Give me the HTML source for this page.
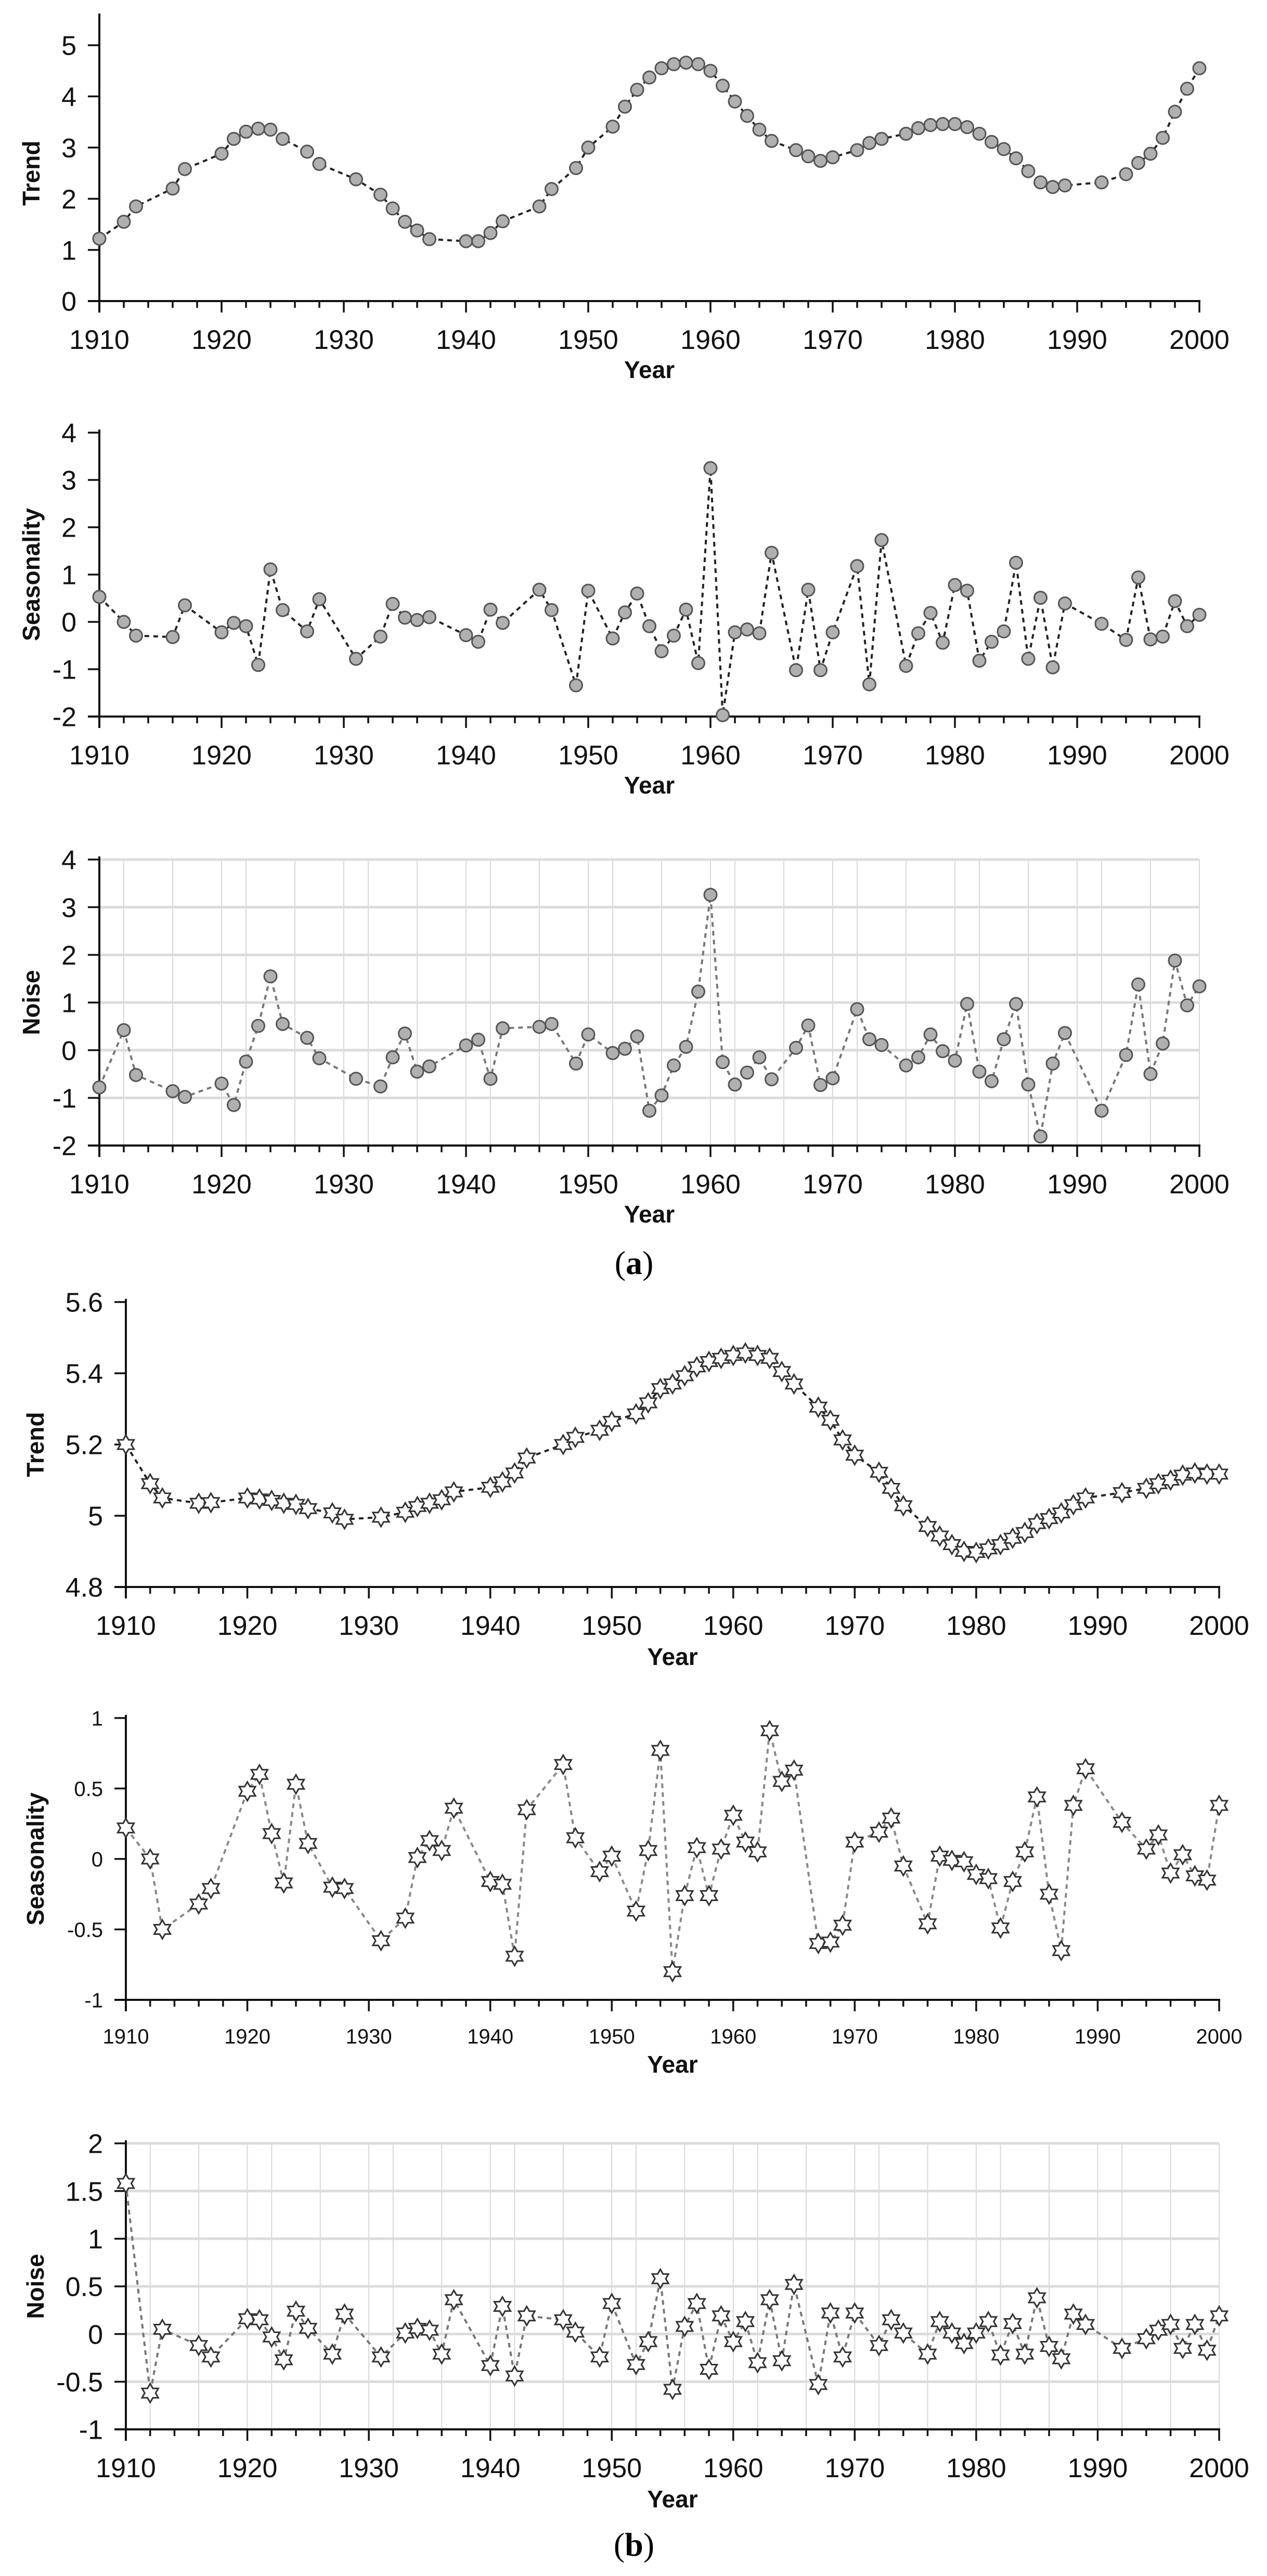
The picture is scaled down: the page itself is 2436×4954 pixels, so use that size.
<!DOCTYPE html>
<html><head><meta charset="utf-8"><style>
html,body{margin:0;padding:0;background:#fff;}
svg{display:block;font-family:"Liberation Sans",Arial,sans-serif;}
</style></head><body>
<svg id="fig" width="2436" height="4954" viewBox="0 0 2436 4954" xmlns="http://www.w3.org/2000/svg">
<text x="1219" y="2450" text-anchor="middle" font-family="Liberation Serif, serif" font-size="64">(<tspan font-weight="bold">a</tspan>)</text>
<text x="1219" y="4915" text-anchor="middle" font-family="Liberation Serif, serif" font-size="64">(<tspan font-weight="bold">b</tspan>)</text>
</svg>
<script>
const years = [1910,1912,1913,1916,1917,1920,1921,1922,1923,1924,1925,1927,1928,1931,1933,1934,1935,1936,1937,1940,1941,1942,1943,1946,1947,1949,1950,1952,1953,1954,1955,1956,1957,1958,1959,1960,1961,1962,1963,1964,1965,1967,1968,1969,1970,1972,1973,1974,1976,1977,1978,1979,1980,1981,1982,1983,1984,1985,1986,1987,1988,1989,1992,1994,1995,1996,1997,1998,1999,2000];
const xTickLabels = ["1910","1920","1930","1940","1950","1960","1970","1980","1990","2000"];
const aTrend = [1.22,1.55,1.85,2.2,2.58,2.88,3.17,3.31,3.37,3.35,3.17,2.92,2.68,2.38,2.08,1.81,1.55,1.38,1.21,1.17,1.17,1.33,1.56,1.85,2.19,2.6,3.0,3.41,3.8,4.13,4.37,4.55,4.63,4.66,4.63,4.5,4.21,3.9,3.62,3.35,3.13,2.95,2.83,2.74,2.81,2.95,3.09,3.17,3.27,3.38,3.44,3.46,3.46,3.4,3.27,3.11,2.97,2.79,2.54,2.32,2.23,2.26,2.32,2.48,2.7,2.88,3.19,3.7,4.15,4.55];
const aSeason = [0.53,0.0,-0.29,-0.32,0.35,-0.22,-0.02,-0.09,-0.91,1.11,0.25,-0.2,0.48,-0.78,-0.31,0.38,0.09,0.04,0.1,-0.28,-0.42,0.26,-0.02,0.68,0.25,-1.34,0.66,-0.35,0.2,0.6,-0.09,-0.62,-0.29,0.26,-0.87,3.25,-1.97,-0.22,-0.16,-0.24,1.46,-1.02,0.68,-1.02,-0.22,1.18,-1.32,1.73,-0.93,-0.24,0.19,-0.44,0.78,0.66,-0.82,-0.42,-0.2,1.25,-0.78,0.51,-0.96,0.39,-0.04,-0.38,0.94,-0.37,-0.31,0.44,-0.09,0.15];
const aNoise = [-0.78,0.42,-0.52,-0.86,-0.98,-0.7,-1.15,-0.24,0.51,1.55,0.55,0.26,-0.17,-0.6,-0.76,-0.15,0.35,-0.45,-0.34,0.1,0.22,-0.6,0.46,0.49,0.55,-0.28,0.33,-0.06,0.03,0.29,-1.27,-0.95,-0.32,0.07,1.23,3.26,-0.25,-0.72,-0.47,-0.15,-0.61,0.05,0.52,-0.73,-0.59,0.86,0.23,0.11,-0.32,-0.15,0.33,-0.02,-0.22,0.97,-0.45,-0.65,0.23,0.97,-0.72,-1.81,-0.28,0.36,-1.27,-0.1,1.38,-0.5,0.14,1.88,0.94,1.34];
const bTrend = [5.2,5.09,5.05,5.035,5.037,5.05,5.047,5.043,5.035,5.032,5.02,5.008,4.99,4.996,5.01,5.026,5.035,5.045,5.067,5.08,5.095,5.12,5.162,5.2,5.22,5.24,5.265,5.286,5.317,5.357,5.37,5.393,5.418,5.433,5.442,5.45,5.457,5.45,5.442,5.405,5.37,5.305,5.268,5.213,5.17,5.122,5.077,5.028,4.97,4.943,4.919,4.9,4.897,4.907,4.919,4.937,4.953,4.978,4.992,5.008,5.031,5.05,5.065,5.077,5.09,5.1,5.114,5.12,5.117,5.117];
const bSeason = [0.22,0.0,-0.5,-0.32,-0.21,0.48,0.6,0.18,-0.17,0.53,0.11,-0.2,-0.21,-0.58,-0.42,0.01,0.13,0.06,0.36,-0.16,-0.18,-0.69,0.35,0.67,0.15,-0.09,0.02,-0.37,0.06,0.77,-0.8,-0.26,0.08,-0.26,0.07,0.31,0.12,0.05,0.91,0.55,0.63,-0.6,-0.59,-0.47,0.12,0.19,0.29,-0.05,-0.46,0.02,-0.01,-0.02,-0.11,-0.14,-0.49,-0.16,0.05,0.44,-0.25,-0.65,0.38,0.64,0.26,0.07,0.17,-0.1,0.03,-0.12,-0.15,0.38];
const bNoise = [1.58,-0.62,0.05,-0.12,-0.24,0.16,0.15,-0.03,-0.27,0.24,0.06,-0.21,0.21,-0.24,0.01,0.06,0.04,-0.21,0.36,-0.33,0.29,-0.44,0.19,0.15,0.02,-0.24,0.32,-0.32,-0.08,0.58,-0.58,0.08,0.32,-0.37,0.19,-0.08,0.13,-0.3,0.36,-0.28,0.52,-0.53,0.22,-0.24,0.22,-0.12,0.15,0.01,-0.21,0.13,0.01,-0.1,0.01,0.13,-0.22,0.11,-0.21,0.38,-0.13,-0.26,0.21,0.1,-0.15,-0.05,0.04,0.1,-0.15,0.1,-0.17,0.19];
const aTrendTicks = ["0","1","2","3","4","5"];
const aSeasonTicks = ["-2","-1","0","1","2","3","4"];
const aNoiseTicks = ["-2","-1","0","1","2","3","4"];
const bTrendTicks = ["4.8","5","5.2","5.4","5.6"];
const bSeasonTicks = ["-1","-0.5","0","0.5","1"];
const bNoiseTicks = ["-1","-0.5","0","0.5","1","1.5","2"];

const NS="http://www.w3.org/2000/svg";
const svg=document.getElementById('fig');
function mk(tag,attrs,parent){const e=document.createElementNS(NS,tag);for(const k in attrs)e.setAttribute(k,attrs[k]);(parent||svg).appendChild(e);return e;}

function panel(cfg){
  const g=mk('g',{});
  
  
  const xs=v=>cfg.x0+(v-1910)*(cfg.x1-cfg.x0)/90;
  const ys=v=>cfg.yb+(v-cfg.vmin)*(cfg.yt-cfg.yb)/(cfg.vmax-cfg.vmin);
  const ticks=cfg.ticks.map(Number);
  if(cfg.grid){
    for(let y=1910;y<=2000;y+=2){const m=(y-1910)%10;if(m===0||m===2||m===6){
      const l=mk('line',{x1:xs(y),x2:xs(y),y1:ys(cfg.vmax),y2:cfg.yb,stroke:'#d8d8d8','stroke-width':2},g);
      }}
    ticks.forEach(t=>{const l=mk('line',{x1:cfg.x0,x2:cfg.x1,y1:ys(t),y2:ys(t),stroke:'#dcdcdc','stroke-width':5},g);
      });
  }
  // axes
  const ya=mk('line',{x1:cfg.x0,x2:cfg.x0,y1:cfg.ytop,y2:cfg.yb+22,stroke:'#111','stroke-width':4},g);
  
  const xa=mk('line',{x1:cfg.x0-22,x2:cfg.x1+2,y1:cfg.yb,y2:cfg.yb,stroke:'#111','stroke-width':4},g);
  
  for(let y=1910;y<=2000;y+=2){
    const major=(y-1910)%10===0;
    mk('line',{x1:xs(y),x2:xs(y),y1:cfg.yb,y2:cfg.yb+(major?22:13),stroke:'#111','stroke-width':3.5},g);
  }
  xTickLabels.forEach(s=>{
    const t=mk('text',{x:xs(Number(s)),y:cfg.yb+cfg.lblOff,'text-anchor':'middle','font-size':cfg.fs,fill:'#111'},g);
    t.textContent=s;
  });
  cfg.ticks.forEach(s=>{
    const v=Number(s);
    mk('line',{x1:cfg.x0-22,x2:cfg.x0,y1:ys(v),y2:ys(v),stroke:'#111','stroke-width':3.5},g);
    const t=mk('text',{x:cfg.x0-44,y:ys(v)+cfg.yfs*0.36,'text-anchor':'end','font-size':cfg.yfs,fill:'#111'},g);
    t.textContent=s;
  });
  const xt=mk('text',{x:(cfg.x0+cfg.x1)/2,y:cfg.yb+cfg.yearOff,'text-anchor':'middle','font-size':46,'font-weight':'bold',fill:'#111'},g);
  xt.textContent='Year';
  const cy=(cfg.yb+ys(cfg.ticks.map(Number).slice(-1)[0]))/2;
  const yt=mk('text',{x:cfg.titleX,y:cy,'text-anchor':'middle','font-size':46,'font-weight':'bold',fill:'#111',transform:`rotate(-90 ${cfg.titleX} ${cy})`},g);
  yt.textContent=cfg.title;
  // line
  const pts=years.map((y,i)=>xs(y)+','+ys(cfg.vals[i])).join(' ');
  const pl=mk('polyline',{points:pts,fill:'none',stroke:cfg.lineColor,'stroke-width':4,'stroke-dasharray':'9 8'},g);
  
  years.forEach((y,i)=>{
    const cx=xs(y),cyy=ys(cfg.vals[i]);let m;
    if(cfg.star){
      const R=18,r=10.4;let d='';
      for(let k=0;k<12;k++){const a=-Math.PI/2+k*Math.PI/6;const rr=k%2?r:R;d+=(k?'L':'M')+(cx+rr*Math.cos(a)).toFixed(1)+','+(cyy+rr*Math.sin(a)).toFixed(1);}
      m=mk('path',{d:d+'Z',fill:'#fff',stroke:'#333','stroke-width':3},g);
    } else {
      m=mk('circle',{cx:cx,cy:cyy,r:12,fill:'#b0b0b0',stroke:'#555','stroke-width':3},g);
    }
    
    
  });
}
const A={x0:191,x1:2306,fs:52,yfs:52,lblOff:92,yearOff:148,titleX:76};
const B={x0:242,x1:2344,fs:52,yfs:52,lblOff:92,yearOff:150,titleX:84};
panel(Object.assign({},A,{name:'panel-a-trend',title:'Trend',vals:aTrend,ticks:aTrendTicks,vmin:0,vmax:5,yb:579,yt:87,ytop:26,lineColor:'#222'}));
panel(Object.assign({},A,{name:'panel-a-seasonality',title:'Seasonality',vals:aSeason,ticks:aSeasonTicks,vmin:-2,vmax:4,yb:1378,yt:832,ytop:826,lineColor:'#222'}));
panel(Object.assign({},A,{name:'panel-a-noise',title:'Noise',vals:aNoise,ticks:aNoiseTicks,vmin:-2,vmax:4,yb:2203,yt:1653,ytop:1647,lineColor:'#777',grid:true}));
panel(Object.assign({},B,{name:'panel-b-trend',title:'Trend',vals:bTrend,ticks:bTrendTicks,vmin:4.8,vmax:5.6,yb:3052,yt:2504,ytop:2498,lineColor:'#222',star:true}));
panel(Object.assign({},B,{name:'panel-b-seasonality',title:'Seasonality',vals:bSeason,ticks:bSeasonTicks,vmin:-1,vmax:1,yb:3846,yt:3304,ytop:3298,lineColor:'#888',star:true,fs:40,yfs:40,lblOff:84,yearOff:140}));
panel(Object.assign({},B,{name:'panel-b-noise',title:'Noise',vals:bNoise,ticks:bNoiseTicks,vmin:-1,vmax:2,yb:4672,yt:4122,ytop:4116,lineColor:'#777',star:true,grid:true}));
</script>
</body></html>
